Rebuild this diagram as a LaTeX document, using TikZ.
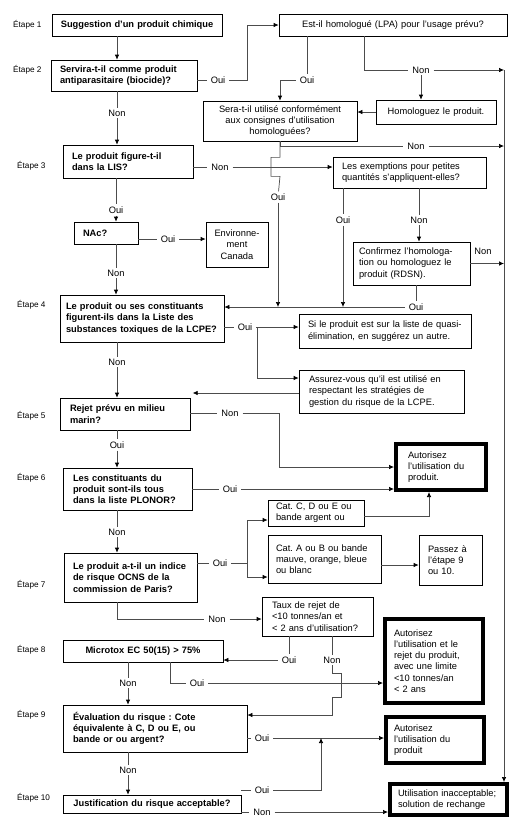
\documentclass[tikz,border=0pt]{standalone}
\usepackage{fontspec}
\setmainfont{Liberation Sans}
\usetikzlibrary{arrows.meta}
\frenchspacing

\begin{document}
\begin{tikzpicture}[
    x=1pt, y=-1pt,
    font=\fontsize{9.3}{11.3}\selectfont,
    blk/.style={draw, fill=white, line width=0.7pt, inner xsep=8pt,
                inner ysep=1pt, align=left},
    qst/.style={blk, font=\fontsize{9.3}{11.3}\selectfont\bfseries},
    fin/.style={blk, line width=4pt},
    etp/.style={anchor=west, inner sep=0pt, font=\fontsize{8.2}{10}\selectfont},
    lbl/.style={inner xsep=4pt, inner ysep=2pt},
    fl/.style={-{Latex[length=5pt, width=4.5pt, color=black]}, draw=black!70,
               line width=0.7pt},
    ln/.style={draw=black!70, line width=0.7pt}
]
\useasboundingbox (0,0) rectangle (532,831);

  % ================= Étapes =================
  \node[etp] (e1)  at (13,25)  {Étape 1};
  \node[etp] (e2)  at (13,70)  {Étape 2};
  \node[etp] (e3)  at (17,166) {Étape 3};
  \node[etp] (e4)  at (17,305) {Étape 4};
  \node[etp] (e5)  at (17,416) {Étape 5};
  \node[etp] (e6)  at (17,478) {Étape 6};
  \node[etp] (e7)  at (17,585) {Étape 7};
  \node[etp] (e8)  at (17,650) {Étape 8};
  \node[etp] (e9)  at (17,715) {Étape 9};
  \node[etp] (e10) at (17,798) {Étape 10};

  % ================= colonne des questions =================
  \node[qst, minimum width=170pt, minimum height=22pt, text width=154pt, align=center]
        (sugg) at (137,25) {Suggestion d'un produit chimique};
  \node[qst, minimum width=146pt, minimum height=31pt, text width=128pt, inner xsep=9pt]
        (biocide) at (124,75.5) {Servira-t-il comme produit\\antiparasitaire (biocide)?};
  \node[qst, minimum width=130pt, minimum height=33pt, text width=112pt, inner xsep=9pt]
        (lis) at (128,161.5) {Le produit figure-t-il\\dans la LIS?};
  \node[qst, minimum width=64pt, minimum height=22pt, text width=46pt, inner xsep=9pt]
        (nac) at (106,233) {NAc?};
  \node[qst, minimum width=164pt, minimum height=47pt, text width=152pt, inner xsep=6pt]
        (lcpe) at (142,318.5) {Le produit ou ses constituants\\figurent-ils dans la Liste des\\substances toxiques de la LCPE?};
  \node[qst, minimum width=130pt, minimum height=32pt, text width=110pt, inner xsep=10pt]
        (marin) at (125,414) {Rejet prévu en milieu\\marin?};
  \node[qst, minimum width=129pt, minimum height=42pt, text width=109pt, inner xsep=10pt]
        (plonor) at (127.5,489) {Les constituants du\\produit sont-ils tous\\dans la liste PLONOR?};
  \node[qst, minimum width=133pt, minimum height=49pt, text width=115pt, inner xsep=9pt]
        (ocns) at (130.5,577.5) {Le produit a-t-il un indice\\de risque OCNS de la\\commission de Paris?};
  \node[qst, minimum width=160pt, minimum height=22pt, text width=144pt, align=center]
        (microtox) at (143,651) {Microtox EC 50(15) > 75\%};
  \node[qst, minimum width=184pt, minimum height=47pt, text width=164pt, inner xsep=10pt]
        (evalr) at (155,728.5) {Évaluation du risque : Cote\\équivalente à C, D ou E, ou\\bande or ou argent?};
  \node[qst, minimum width=178pt, minimum height=18pt, text width=162pt, align=center]
        (justif) at (152,804) {Justification du risque acceptable?};

  % ================= cases de droite =================
  \node[blk, minimum width=228pt, minimum height=22pt, text width=212pt, align=center]
        (lpa) at (393,25) {Est-il homologué (LPA) pour l'usage prévu?};
  \node[blk, minimum width=154pt, minimum height=40pt, text width=138pt, align=center]
        (consignes) at (280,121) {Sera-t-il utilisé conformément\\aux consignes d'utilisation\\homologuées?};
  \node[blk, minimum width=120pt, minimum height=24pt, text width=104pt, align=center]
        (homol) at (436,112) {Homologuez le produit.};
  \node[blk, minimum width=153pt, minimum height=31pt, text width=135pt, inner xsep=9pt]
        (exempt) at (409.5,172.5) {Les exemptions pour petites\\quantités s'appliquent-elles?};
  \node[blk, minimum width=62pt, minimum height=45pt, text width=54pt, inner xsep=4pt, align=center]
        (envcan) at (237,244.5) {Environne-\\ment\\Canada};
  \node[blk, minimum width=117pt, minimum height=43pt, text width=105pt, inner xsep=6pt]
        (rdsn) at (411.5,263.5) {Confirmez l'homologa-\\tion ou homologuez le\\produit (RDSN).};
  \node[blk, minimum width=172pt, minimum height=34pt, text width=154pt, inner xsep=9pt]
        (quasi) at (385,331) {Si le produit est sur la liste de quasi-\\élimination, en suggérez un autre.};
  \node[blk, minimum width=165pt, minimum height=43pt, text width=145pt, inner xsep=10pt]
        (strat) at (381.5,391.5) {Assurez-vous qu'il est utilisé en\\respectant les stratégies de\\gestion du risque de la LCPE.};
  \node[blk, minimum width=96pt, minimum height=26pt, text width=80pt]
        (catcde) at (316,513) {Cat. C, D ou E ou\\bande argent ou};
  \node[blk, minimum width=113pt, minimum height=48pt, text width=97pt]
        (catab) at (324.5,559) {Cat. A ou B ou bande\\mauve, orange, bleue\\ou blanc};
  \node[blk, minimum width=63pt, minimum height=50pt, text width=45pt, inner xsep=9pt]
        (passez) at (450.5,560) {Passez à\\l'étape 9\\ou 10.};
  \node[blk, minimum width=111pt, minimum height=39pt, text width=91pt, inner xsep=10pt]
        (taux) at (317.5,616.5) {Taux de rejet de\\<10 tonnes/an et\\< 2 ans d'utilisation?};

  % ================= décisions finales =================
  \node[fin, minimum width=90pt, minimum height=46pt, text width=66pt, inner xsep=12pt]
        (aut1) at (441,467) {Autorisez\\l'utilisation du\\produit.};
  \node[fin, minimum width=98pt, minimum height=84pt, text width=80pt, inner xsep=9pt]
        (aut2) at (434,661) {Autorisez\\l'utilisation et le\\rejet du produit,\\avec une limite\\<10 tonnes/an\\< 2 ans};
  \node[fin, minimum width=98pt, minimum height=46pt, text width=82pt]
        (aut3) at (435,740) {Autorisez\\l'utilisation du\\produit};
  \node[fin, minimum width=117pt, minimum height=31pt, text width=101pt]
        (inacc) at (448.5,799.5) {Utilisation inacceptable;\\solution de rechange};

  % ================= Oui / Non =================
  \node[lbl] (bionon)   at (117,113) {Non};
  \node[lbl] (biooui)   at (218,80)  {Oui};
  \node[lbl] (lpaoui)   at (307,80)  {Oui};
  \node[lbl] (lpanon)   at (421,70)  {Non};
  \node[lbl] (consnon)  at (416,146) {Non};
  \node[lbl] (consoui)  at (278,197) {Oui};
  \node[lbl] (lisnon)   at (220,167) {Non};
  \node[lbl] (lisoui)   at (116,210) {Oui};
  \node[lbl] (exoui)    at (343,220) {Oui};
  \node[lbl] (exnon)    at (419,220) {Non};
  \node[lbl] (rdsnnon)  at (483,251) {Non};
  \node[lbl] (rdsnoui)  at (416,307) {Oui};
  \node[lbl] (nacoui)   at (168,239) {Oui};
  \node[lbl] (nacnon)   at (116,273) {Non};
  \node[lbl] (lcpeoui)  at (245,327) {Oui};
  \node[lbl] (lcpenon)  at (117,362) {Non};
  \node[lbl] (marinnon) at (230,413) {Non};
  \node[lbl] (marinoui) at (117,445) {Oui};
  \node[lbl] (plonoui)  at (230,489) {Oui};
  \node[lbl] (plonnon)  at (117,532) {Non};
  \node[lbl] (ocnsoui)  at (220,563) {Oui};
  \node[lbl] (ocnsnon)  at (217,619) {Non};
  \node[lbl] (tauxoui)  at (289,660) {Oui};
  \node[lbl] (tauxnon)  at (332,660) {Non};
  \node[lbl] (micronon) at (128,683) {Non};
  \node[lbl] (microoui) at (197,683) {Oui};
  \node[lbl] (evaloui)  at (262,738) {Oui};
  \node[lbl] (evalnon)  at (128,770) {Non};
  \node[lbl] (justoui)  at (262,790) {Oui};
  \node[lbl] (justnon)  at (262,812) {Non};

  \coordinate (rail) at (504,70);

  % ================= liaisons : étapes 1 à 3 =================
  \draw[fl] (sugg.south -| bionon) -- (biocide.north -| bionon);
  \draw[ln] (biocide.south -| bionon) -- (bionon);
  \draw[fl] (bionon) -- (lis.north -| bionon);
  \draw[ln] (biocide.east |- biooui) -- (biooui);
  \draw[fl] (biooui) -- ++(29,0) |- (lpa.west);

  \draw[ln] (lpa.south -| lpaoui) -- (lpaoui);
  \draw[fl] (lpaoui) -| (consignes.north);
  \draw[ln] ([xshift=-29pt]lpa.south) |- (lpanon);
  \draw[fl] (lpanon) -- (lpanon -| rail);
  \draw[fl] (lpanon) -- (homol.north -| lpanon);
  \draw[fl] (homol.west) -- (consignes.east |- homol.west);

  % rail de droite vers « Utilisation inacceptable »
  \draw[fl] (rail) -- (inacc.north -| rail);

  \draw[ln] (consignes.south) |- (consnon);
  \draw[fl] (consnon) -- (consnon -| rail);
  % saut par-dessus la ligne « Non » de l'étape 3
  \draw[ln] (consignes.south) -- ++(0,16) -- ++(-9,0) -- ++(0,19) -- ++(9,0)
            -- (consoui);
  \draw[fl] (consoui) -- (consoui |- rdsnoui);

  \draw[ln] (lis.east |- lisnon) -- (lisnon);
  \draw[fl] (lisnon) -- (exempt.west |- lisnon);
  \draw[ln] (lis.south -| lisoui) -- (lisoui);
  \draw[fl] (lisoui) -- (nac.north -| lisoui);

  \draw[ln] (exempt.south -| exoui) -- (exoui);
  \draw[fl] (exoui) -- (exoui |- rdsnoui);
  \draw[ln] (exempt.south -| exnon) -- (exnon);
  \draw[fl] (exnon) -- (rdsn.north -| exnon);
  \draw[fl] (rdsn.east) -- (rdsn.east -| rail);
  \draw[ln] (rdsn.south -| rdsnoui) -- (rdsnoui);
  \draw[fl] (rdsnoui) -- (rdsnoui -| lcpe.east);

  \draw[ln] (nac.east |- nacoui) -- (nacoui);
  \draw[fl] (nacoui) -- (envcan.west |- nacoui);
  \draw[ln] (nac.south -| nacnon) -- (nacnon);
  \draw[fl] (nacnon) -- (lcpe.north -| nacnon);

  % ================= étapes 4 à 6 =================
  \draw[ln] (lcpe.east |- lcpeoui) -- (lcpeoui);
  \draw[fl] (lcpeoui) -- (quasi.west |- lcpeoui);
  \draw[fl] ([xshift=12pt]lcpeoui.center) |- ([yshift=13.5pt]strat.west);
  \draw[fl] ([yshift=-1.5pt]strat.west) -- ++(-106,0);
  \draw[ln] (lcpe.south -| lcpenon) -- (lcpenon);
  \draw[fl] (lcpenon) -- (marin.north -| lcpenon);

  \draw[ln] (marin.east |- marinnon) -- (marinnon);
  \draw[fl] (marinnon) -- ++(49,0) |- (aut1.west);
  \draw[ln] (marin.south -| marinoui) -- (marinoui);
  \draw[fl] (marinoui) -- (plonor.north -| marinoui);

  \draw[ln] (plonor.east |- plonoui) -- (plonoui);
  \draw[fl] (plonoui) -- (aut1.west |- plonoui);
  \draw[ln] (plonor.south -| plonnon) -- (plonnon);
  \draw[fl] (plonnon) -- (ocns.north -| plonnon);

  % ================= étapes 7 et 8 =================
  \draw[ln] (ocns.east |- ocnsoui) -- (ocnsoui);
  \draw[fl] (ocnsoui) -- ++(27,0) |- ([yshift=-7pt]catcde.west);
  \draw[fl] ([xshift=27pt]ocnsoui.center) |- ([yshift=-18pt]catab.west);
  \draw[fl] ([yshift=-3pt]catcde.east) -| ([xshift=-12pt]aut1.south);
  \draw[fl] ([yshift=-6pt]catab.east) -- ([yshift=-5pt]passez.west);
  \draw[ln] (ocns.south -| plonnon) |- (ocnsnon);
  \draw[fl] (ocnsnon) -- (taux.west |- ocnsnon);

  \draw[ln] (taux.south -| tauxoui) -- (tauxoui);
  \draw[fl] (tauxoui) -- (tauxoui -| microtox.east);
  \draw[ln] (taux.south -| tauxnon) -- (tauxnon);
  \draw[fl] (tauxnon) -- ++(0,13) -- ++(9,0) -- ++(0,24) -- ++(-9,0)
            |- ([yshift=13.5pt]evalr.east);

  \draw[ln] (microtox.south -| micronon) -- (micronon);
  \draw[fl] (micronon) -- (evalr.north -| micronon);
  \draw[ln] ([xshift=27pt]microtox.south) |- (microoui);
  \draw[fl] (microoui) -- (aut2.west |- microoui);

  % ================= étapes 9 et 10 =================
  \draw[ln] (evalr.east |- evaloui) -- (evaloui);
  \draw[fl] (evaloui) -- (aut3.west |- evaloui);
  \draw[ln] (evalr.south -| evalnon) -- (evalnon);
  \draw[fl] (evalnon) -- (justif.north -| evalnon);

  \draw[ln] (justif.east |- justoui) -- (justoui);
  \draw[fl] (justoui) -| ([xshift=59pt]evaloui.center);
  \draw[ln] (justif.east |- justnon) -- (justnon);
  \draw[fl] (justnon) -- (inacc.west |- justnon);

\end{tikzpicture}
\end{document}
